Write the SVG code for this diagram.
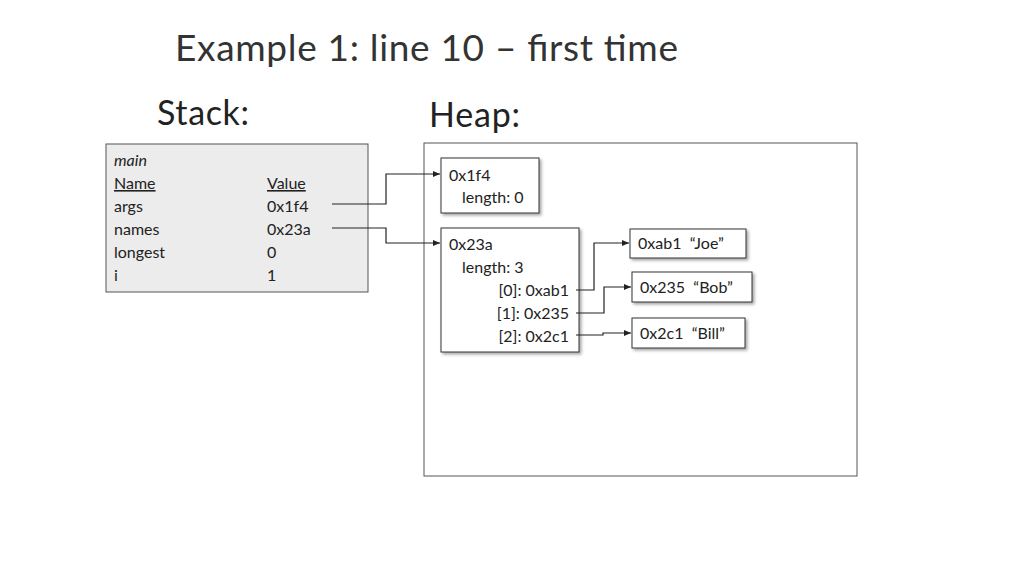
<svg xmlns="http://www.w3.org/2000/svg" width="1024" height="576" viewBox="0 0 1024 576">
<style>
text{font-family:Lato,"Open Sans",sans-serif;fill:#222}
.t{font-size:16px}
.box{fill:#fff;stroke:#333;stroke-width:1}
.c{fill:none;stroke:#222;stroke-width:1.2}
</style>
<defs>
<marker id="a" markerWidth="8" markerHeight="8" refX="7" refY="4" orient="auto" markerUnits="userSpaceOnUse"><path d="M0,1 L7,4 L0,7 Z" fill="#222"/></marker>
<filter id="sh" x="-10%" y="-10%" width="130%" height="130%"><feDropShadow dx="2" dy="2" stdDeviation="1.5" flood-color="#000" flood-opacity="0.35"/></filter>
</defs>
<rect width="1024" height="576" fill="#fff"/>
<text x="175" y="61" font-size="37" textLength="503" style="fill:#333">Example 1: line 10 – first time</text>
<text x="157" y="125" font-size="34" textLength="92">Stack:</text>
<text x="429" y="127" font-size="34" textLength="91">Heap:</text>
<g id="stack">
<rect x="106" y="144" width="262" height="148" fill="#ececec" stroke="#555"/>
<text class="t" x="114" y="166" font-style="italic">main</text>
<text class="t" x="114" y="189" text-decoration="underline">Name</text>
<text class="t" x="267" y="189" text-decoration="underline">Value</text>
<text class="t" x="114" y="212">args</text><text class="t" x="267" y="212">0x1f4</text>
<text class="t" x="114" y="235">names</text><text class="t" x="267" y="235">0x23a</text>
<text class="t" x="114" y="258">longest</text><text class="t" x="267" y="258">0</text>
<text class="t" x="114" y="281">i</text><text class="t" x="267" y="281">1</text>
</g>
<g id="heap"><rect x="424" y="143" width="433" height="333" fill="none" stroke="#555"/></g>
<g id="n1f4"><rect class="box" x="441" y="158" width="98" height="55" filter="url(#sh)"/>
<text class="t" x="449" y="181">0x1f4</text><text class="t" x="462" y="203">length: 0</text></g>
<g id="n23a"><rect class="box" x="441" y="228" width="138" height="124" filter="url(#sh)"/>
<text class="t" x="449" y="250">0x23a</text><text class="t" x="462" y="273">length: 3</text>
<text class="t" x="569" y="296" text-anchor="end">[0]: 0xab1</text>
<text class="t" x="569" y="319" text-anchor="end">[1]: 0x235</text>
<text class="t" x="569" y="342" text-anchor="end">[2]: 0x2c1</text></g>
<g id="joe"><rect class="box" x="630" y="229" width="116" height="29" filter="url(#sh)"/><text class="t" x="638" y="249" xml:space="preserve">0xab1  “Joe”</text></g>
<g id="bob"><rect class="box" x="632" y="272" width="120" height="30" filter="url(#sh)"/><text class="t" x="640" y="293" xml:space="preserve">0x235  “Bob”</text></g>
<g id="bill"><rect class="box" x="632" y="318" width="113" height="30" filter="url(#sh)"/><text class="t" x="640" y="339" xml:space="preserve">0x2c1  “Bill”</text></g>
<g id="connectors">
<path class="c" d="M332,204 H386 V174 H440" marker-end="url(#a)"/>
<path class="c" d="M332,228 H386 V243 H440" marker-end="url(#a)"/>
<path class="c" d="M576,290 H594 V243 H629" marker-end="url(#a)"/>
<path class="c" d="M576,313 H604 V287 H631" marker-end="url(#a)"/>
<path class="c" d="M576,335 H603 V333 H631" marker-end="url(#a)"/>
</g>
</svg>
